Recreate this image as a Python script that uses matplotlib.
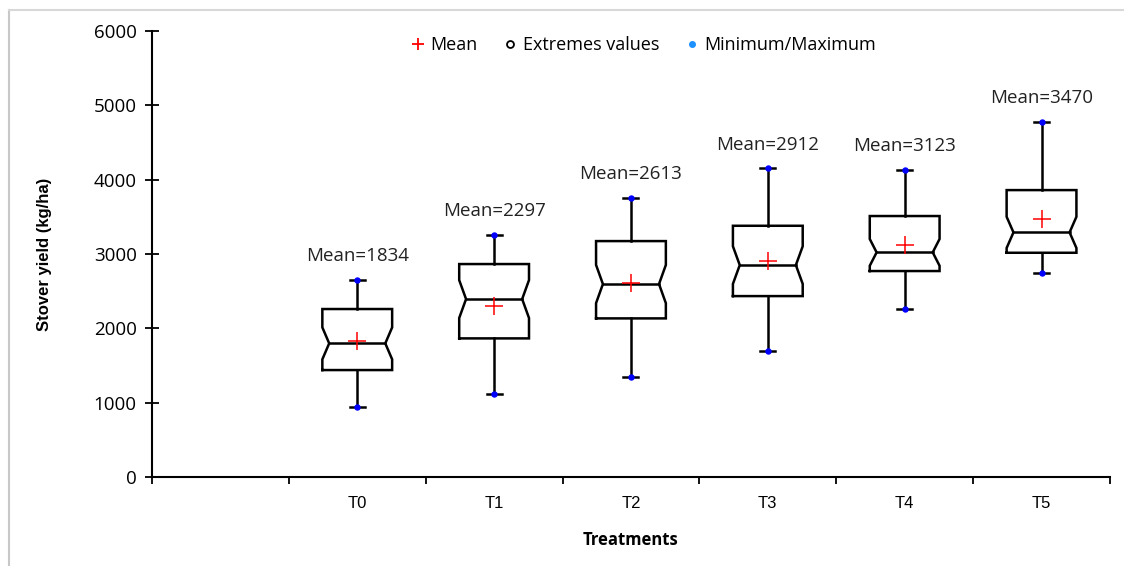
import matplotlib.pyplot as plt
from matplotlib.lines import Line2D

# Stover yield summary per treatment (kg/ha)
treatments = ["T0", "T1", "T2", "T3", "T4", "T5"]
means = [1834, 2297, 2613, 2912, 3123, 3470]
minimum = [946, 1112, 1349, 1695, 2255, 2748]
q1 = [1439, 1865, 2134, 2434, 2771, 3017]
median = [1798, 2394, 2596, 2851, 3022, 3291]
q3 = [2260, 2865, 3174, 3380, 3511, 3860]
maximum = [2650, 3255, 3757, 4152, 4129, 4779]
notch_half = [215, 255, 257, 253, 180, 210]

plt.rcParams['font.family'] = ['Open Sans', 'DejaVu Sans']

fig = plt.figure(figsize=(11.24, 5.66), dpi=100)
ax = fig.add_axes([0.1352, 0.1572, 0.9875 - 0.1352, 0.9452 - 0.1572])

# light frame along top and left edge of the figure
fig.add_artist(Line2D([9 / 1124, 9 / 1124], [0, 1 - 10 / 566],
                      transform=fig.transFigure, color='#c8c8c8', lw=1.5))
fig.add_artist(Line2D([9 / 1124, 1], [1 - 10 / 566, 1 - 10 / 566],
                      transform=fig.transFigure, color='#d8d8d8', lw=1.5))

w = 0.255      # half box width
wi = 0.205     # half width at the notch
cap = 0.055    # half cap width
lw = 1.8

for i, name in enumerate(treatments):
    x = i + 1.5
    lo = max(q1[i], median[i] - notch_half[i])
    hi = min(q3[i], median[i] + notch_half[i])
    bx = [x - w, x + w, x + w, x + wi, x + w, x + w, x - w, x - w, x - wi, x - w, x - w]
    by = [q1[i], q1[i], lo, median[i], hi, q3[i], q3[i], hi, median[i], lo, q1[i]]
    ax.plot(bx, by, color='black', lw=lw, solid_joinstyle='miter', zorder=3)
    ax.plot([x - wi, x + wi], [median[i], median[i]], color='black', lw=lw, zorder=3)
    # whiskers and caps
    ax.plot([x, x], [q3[i], maximum[i]], color='black', lw=lw, zorder=2)
    ax.plot([x, x], [q1[i], minimum[i]], color='black', lw=lw, zorder=2)
    for v in (minimum[i], maximum[i]):
        ax.plot([x - cap, x + cap], [v, v], color='black', lw=lw, zorder=2)
    ax.plot([x, x], [minimum[i], maximum[i]], ls='none', marker='o',
            ms=3.6, color='#0000ff', zorder=4)
    ax.plot(x, means[i], marker='+', ms=13, mew=1.1, color='red', zorder=5)
    ax.text(x, maximum[i] + 320, f"Mean={means[i]}", ha='center', va='center',
            fontsize=13.5, color='#222222')

ax.set_xlim(0, 7)
ax.set_ylim(0, 6000)
ax.set_yticks(range(0, 6001, 1000))
ax.set_xticks(range(0, 8))
ax.set_xticklabels([])
ax.set_xticks([i + 1.5 for i in range(len(treatments))], minor=True)
ax.set_xticklabels(treatments, minor=True, fontsize=12,
                   family=['Liberation Sans Narrow', 'Liberation Sans', 'DejaVu Sans'])
ax.tick_params(axis='x', which='major', direction='out', length=5, width=1.3)
ax.tick_params(axis='x', which='minor', length=0, pad=14)
ax.tick_params(axis='y', direction='inout', length=10, width=1.3, labelsize=13.5, pad=6)

for side in ('top', 'right'):
    ax.spines[side].set_visible(False)
for side in ('left', 'bottom'):
    ax.spines[side].set_linewidth(1.5)

ax.set_ylabel("Stover yield (kg/ha)", fontsize=12, fontweight='bold', labelpad=30,
              family=['Liberation Sans Narrow', 'Liberation Sans', 'DejaVu Sans'])
ax.set_xlabel("Treatments", fontsize=12, fontweight='bold', labelpad=14)

handles = [
    Line2D([], [], ls='none', marker='+', ms=8, mew=1.3, color='red'),
    Line2D([], [], ls='none', marker='o', ms=5, mfc='white', mec='black', mew=1.3),
    Line2D([], [], ls='none', marker='o', ms=4, color='#1e90ff'),
]
ax.legend(handles, ["Mean", "Extremes values", "Minimum/Maximum"], ncol=3,
          loc='center', bbox_to_anchor=(0.513, 0.969), frameon=False,
          fontsize=13, handlelength=0.8, handletextpad=0.3, columnspacing=1.4)

fig.savefig("out.png", dpi=100)
